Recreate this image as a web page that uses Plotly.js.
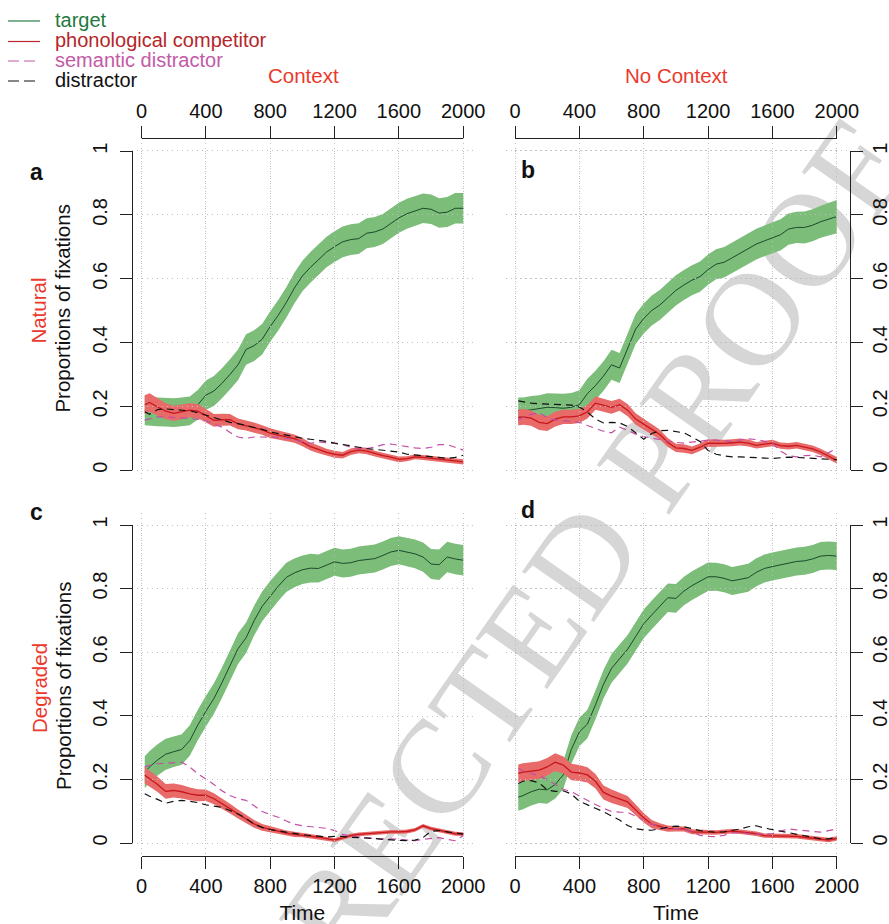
<!DOCTYPE html>
<html>
<head>
<meta charset="utf-8">
<script src="https://cdn.plot.ly/plotly-3.0.1.min.js"></script>
<style>
  html, body { margin:0; padding:0; background:#ffffff; }
  #wrap { position:relative; width:889px; height:924px; overflow:hidden; }
  #wm { position:absolute; left:460px; top:735px; transform:translate(-50%,-50%) rotate(-55deg);
        font-family:"Liberation Serif","DejaVu Serif",serif; font-size:134px; color:#d6d6d6;
        white-space:nowrap; z-index:0; line-height:1; }
  #plot { position:absolute; left:0; top:0; width:889px; height:924px; z-index:1; }
</style>
</head>
<body>
<div id="wrap">
  <div id="wm">UNCORRECTED PROOF</div>
  <div id="plot"></div>
</div>
<script>
// ---------------- DATA ----------------
const time = [20,50,100,150,200,250,300,350,400,450,500,550,600,650,700,750,800,850,900,950,1000,1050,1100,1150,1200,1250,1300,1350,1400,1450,1500,1550,1600,1650,1700,1750,1800,1850,1900,1950,2000];
const xTicks = [0,400,800,1200,1600,2000];
const yTicks = [0,0.2,0.4,0.6,0.8,1];
const yTickText = ['0','0.2','0.4','0.6','0.8','1'];
const seriesNames = ['target','phonological competitor','semantic distractor','distractor'];
const columnTitles = ['Context','No Context'];
const rowTitles = ['Natural','Degraded'];
const panelLetters = ['a','b','c','d'];

// Panel a: Natural, Context
const targetA = [0.188,0.185,0.183,0.182,0.180,0.183,0.186,0.205,0.235,0.248,
  0.272,0.300,0.330,0.378,0.390,0.410,0.450,0.485,0.525,0.570,
  0.608,0.635,0.660,0.683,0.700,0.715,0.722,0.725,0.742,0.746,
  0.755,0.772,0.790,0.803,0.811,0.820,0.817,0.805,0.808,0.820,0.820];
const targetSeA = [0.047,0.046,0.045,0.045,0.045,0.045,0.045,0.046,0.046,0.047,
  0.047,0.047,0.048,0.048,0.048,0.048,0.048,0.048,0.048,0.048,
  0.048,0.048,0.048,0.048,0.048,0.048,0.048,0.048,0.047,0.047,
  0.047,0.047,0.047,0.047,0.046,0.046,0.046,0.046,0.047,0.048,0.048];
const phonA = [0.205,0.212,0.198,0.185,0.178,0.182,0.188,0.185,0.170,0.156,
  0.158,0.158,0.145,0.140,0.133,0.126,0.116,0.110,0.104,0.099,
  0.088,0.074,0.065,0.056,0.050,0.047,0.058,0.063,0.060,0.052,
  0.046,0.041,0.034,0.036,0.042,0.040,0.037,0.034,0.031,0.028,0.026];
const phonSeA = [0.030,0.029,0.027,0.025,0.024,0.023,0.022,0.022,0.021,0.020,
  0.019,0.018,0.017,0.016,0.016,0.015,0.015,0.014,0.014,0.013,
  0.013,0.012,0.012,0.011,0.011,0.010,0.010,0.010,0.010,0.009,
  0.009,0.009,0.009,0.008,0.008,0.008,0.008,0.008,0.008,0.008,0.008];
const semA = [0.157,0.160,0.167,0.167,0.165,0.163,0.162,0.160,0.155,0.145,
  0.135,0.118,0.104,0.100,0.104,0.104,0.104,0.103,0.100,0.095,
  0.088,0.084,0.089,0.087,0.084,0.080,0.072,0.068,0.068,0.072,
  0.080,0.082,0.078,0.073,0.070,0.068,0.072,0.080,0.080,0.072,0.063];
const distA = [0.183,0.175,0.190,0.192,0.190,0.188,0.186,0.180,0.172,0.165,
  0.157,0.150,0.146,0.140,0.135,0.128,0.120,0.115,0.110,0.104,
  0.100,0.097,0.094,0.090,0.085,0.080,0.075,0.072,0.068,0.065,
  0.063,0.060,0.057,0.050,0.047,0.045,0.042,0.040,0.037,0.040,0.047];

// Panel b: Natural, No Context
const targetB = [0.186,0.186,0.189,0.192,0.197,0.196,0.194,0.197,0.205,0.240,
  0.265,0.295,0.330,0.320,0.380,0.442,0.475,0.500,0.517,0.540,
  0.563,0.580,0.595,0.606,0.628,0.645,0.651,0.665,0.679,0.693,
  0.708,0.718,0.728,0.737,0.755,0.760,0.760,0.767,0.778,0.786,0.794];
const targetSeB = [0.042,0.042,0.043,0.043,0.044,0.044,0.045,0.045,0.045,0.046,
  0.046,0.046,0.047,0.047,0.047,0.047,0.047,0.047,0.047,0.047,
  0.047,0.047,0.047,0.047,0.047,0.047,0.048,0.048,0.048,0.048,
  0.048,0.048,0.049,0.049,0.049,0.049,0.050,0.050,0.050,0.051,0.052];
const phonB = [0.165,0.167,0.163,0.150,0.146,0.160,0.167,0.167,0.170,0.183,
  0.210,0.203,0.197,0.205,0.188,0.160,0.145,0.128,0.112,0.087,
  0.070,0.068,0.062,0.072,0.085,0.084,0.084,0.086,0.088,0.085,
  0.078,0.082,0.085,0.077,0.075,0.078,0.072,0.067,0.057,0.045,0.031];
const phonSeB = [0.025,0.025,0.024,0.024,0.023,0.023,0.022,0.022,0.022,0.021,
  0.021,0.020,0.020,0.019,0.019,0.018,0.017,0.016,0.015,0.014,
  0.013,0.013,0.012,0.012,0.012,0.011,0.011,0.011,0.011,0.011,
  0.010,0.010,0.010,0.010,0.010,0.010,0.010,0.010,0.010,0.010,0.010];
const semB = [0.157,0.165,0.175,0.180,0.165,0.157,0.155,0.153,0.150,0.140,
  0.130,0.122,0.117,0.135,0.125,0.113,0.105,0.100,0.095,0.090,
  0.087,0.085,0.088,0.092,0.094,0.094,0.092,0.090,0.095,0.098,
  0.096,0.090,0.085,0.060,0.045,0.042,0.046,0.047,0.042,0.055,0.068];
const distB = [0.217,0.214,0.210,0.208,0.207,0.206,0.205,0.204,0.198,0.182,
  0.160,0.148,0.150,0.148,0.137,0.118,0.097,0.115,0.124,0.125,
  0.121,0.117,0.104,0.090,0.062,0.050,0.045,0.042,0.042,0.040,
  0.040,0.038,0.037,0.040,0.041,0.040,0.039,0.038,0.037,0.035,0.033];

// Panel c: Degraded, Context
const targetC = [0.224,0.240,0.262,0.280,0.288,0.295,0.323,0.372,0.415,0.455,
  0.505,0.560,0.612,0.646,0.700,0.745,0.778,0.808,0.836,0.850,
  0.860,0.865,0.864,0.875,0.885,0.880,0.882,0.889,0.892,0.895,
  0.905,0.916,0.921,0.915,0.910,0.900,0.878,0.876,0.900,0.894,0.890];
const targetSeC = [0.050,0.050,0.049,0.049,0.048,0.048,0.048,0.048,0.048,0.048,
  0.048,0.048,0.048,0.048,0.047,0.047,0.047,0.046,0.046,0.045,
  0.045,0.045,0.044,0.044,0.044,0.044,0.044,0.044,0.044,0.044,
  0.044,0.044,0.044,0.044,0.045,0.046,0.047,0.048,0.048,0.048,0.048];
const phonC = [0.214,0.203,0.185,0.163,0.166,0.162,0.155,0.151,0.151,0.140,
  0.125,0.109,0.092,0.076,0.061,0.050,0.044,0.037,0.032,0.028,
  0.026,0.022,0.019,0.014,0.010,0.017,0.024,0.028,0.030,0.033,
  0.035,0.036,0.036,0.037,0.042,0.055,0.046,0.040,0.036,0.030,0.029];
const phonSeC = [0.026,0.025,0.024,0.023,0.022,0.021,0.020,0.019,0.018,0.017,
  0.016,0.015,0.014,0.013,0.012,0.011,0.010,0.009,0.008,0.008,
  0.007,0.007,0.006,0.006,0.006,0.006,0.006,0.006,0.006,0.006,
  0.006,0.006,0.006,0.006,0.006,0.006,0.006,0.006,0.006,0.006,0.006];
const semC = [0.240,0.245,0.250,0.252,0.255,0.255,0.240,0.218,0.202,0.185,
  0.165,0.150,0.140,0.135,0.118,0.100,0.090,0.082,0.070,0.060,
  0.055,0.052,0.050,0.047,0.040,0.028,0.023,0.020,0.018,0.015,
  0.014,0.014,0.013,0.010,0.008,0.012,0.016,0.018,0.012,0.008,0.024];
const distC = [0.156,0.148,0.138,0.126,0.132,0.135,0.132,0.128,0.121,0.118,
  0.113,0.103,0.092,0.078,0.060,0.050,0.043,0.039,0.036,0.031,
  0.027,0.025,0.022,0.020,0.022,0.022,0.019,0.018,0.017,0.015,
  0.012,0.010,0.009,0.008,0.010,0.018,0.038,0.040,0.036,0.032,0.029];

// Panel d: Degraded, No Context
const targetD = [0.145,0.150,0.162,0.170,0.168,0.185,0.215,0.295,0.350,0.375,
  0.435,0.500,0.550,0.580,0.610,0.650,0.690,0.718,0.745,0.772,
  0.770,0.793,0.810,0.825,0.838,0.838,0.833,0.825,0.830,0.835,
  0.852,0.864,0.870,0.876,0.882,0.886,0.888,0.894,0.903,0.905,0.903];
const targetSeD = [0.043,0.043,0.043,0.043,0.044,0.044,0.044,0.045,0.045,0.045,
  0.045,0.045,0.045,0.045,0.045,0.045,0.045,0.045,0.045,0.045,
  0.045,0.045,0.045,0.045,0.045,0.044,0.044,0.044,0.044,0.044,
  0.044,0.044,0.044,0.044,0.044,0.044,0.044,0.044,0.044,0.044,0.044];
const phonD = [0.220,0.224,0.227,0.230,0.240,0.255,0.246,0.224,0.221,0.215,
  0.195,0.160,0.148,0.140,0.130,0.105,0.080,0.060,0.052,0.046,
  0.046,0.045,0.036,0.035,0.034,0.034,0.036,0.038,0.036,0.034,
  0.030,0.024,0.024,0.024,0.023,0.022,0.019,0.016,0.011,0.010,0.015];
const phonSeD = [0.028,0.028,0.028,0.028,0.028,0.028,0.027,0.026,0.025,0.024,
  0.023,0.022,0.021,0.020,0.019,0.017,0.015,0.013,0.011,0.010,
  0.009,0.008,0.008,0.008,0.007,0.007,0.007,0.007,0.007,0.007,
  0.007,0.007,0.007,0.007,0.007,0.007,0.007,0.007,0.007,0.007,0.007];
const semD = [0.235,0.228,0.220,0.212,0.200,0.185,0.170,0.162,0.148,0.135,
  0.122,0.110,0.100,0.098,0.097,0.085,0.073,0.060,0.052,0.046,
  0.046,0.045,0.035,0.025,0.022,0.021,0.025,0.033,0.034,0.030,
  0.029,0.029,0.030,0.038,0.045,0.042,0.040,0.036,0.035,0.040,0.045];
const distD = [0.188,0.195,0.197,0.190,0.168,0.163,0.165,0.155,0.132,0.120,
  0.110,0.099,0.086,0.073,0.056,0.046,0.042,0.041,0.046,0.051,
  0.054,0.052,0.046,0.040,0.037,0.035,0.036,0.040,0.045,0.052,
  0.055,0.048,0.043,0.038,0.035,0.030,0.025,0.018,0.014,0.014,0.019];

// ---------------- STYLE / GEOMETRY ----------------
const W = 889, H = 924;
const PX = x => x / W;          // pixel -> paper x
const PY = y => 1 - y / H;      // pixel -> paper y
const FONT = '"Liberation Sans", Arial, Helvetica, sans-serif';
const C = {
  greenFill: '#7bbd79', greenLine: '#1d4a2b',
  redFill: '#e86a69', redLine: '#c8171d',
  sem: '#c24fa5', dist: '#111111',
  title: '#ea3a2e'
};
const XRANGE = [-59.2, 2079.2];
const YRANGE = [-0.04, 1.04];
const colPx = [[132, 476], [505.5, 849.5]];      // plot region x (px)
const rowPx = [[138, 483], [512.5, 856]];         // plot region y (px)
const xTickSpan = [[141.5, 463.2], [515, 836.8]]; // 0..2000 (px)
const yTickSpan = [[151.1, 470.2], [525, 843]];   // 1..0 (px)

const panels = [
  {t: targetA, ts: targetSeA, p: phonA, ps: phonSeA, s: semA, d: distA, col:0, row:0},
  {t: targetB, ts: targetSeB, p: phonB, ps: phonSeB, s: semB, d: distB, col:1, row:0},
  {t: targetC, ts: targetSeC, p: phonC, ps: phonSeC, s: semC, d: distC, col:0, row:1},
  {t: targetD, ts: targetSeD, p: phonD, ps: phonSeD, s: semD, d: distD, col:1, row:1}
];

const traces = [];
const layout = {
  width: W, height: H,
  margin: {l:0, r:0, t:0, b:0},
  paper_bgcolor: 'rgba(0,0,0,0)', plot_bgcolor: 'rgba(0,0,0,0)',
  showlegend: false,
  font: {family: FONT, size: 20, color: '#111'},
  annotations: [], shapes: []
};

function band(xa, ya, mean, se, fill, lineColor, lineW) {
  const lo = mean.map((m, i) => m - se[i]);
  const hi = mean.map((m, i) => m + se[i]);
  traces.push({x: time, y: lo, xaxis: xa, yaxis: ya, mode: 'lines', line: {width: 0, color: fill}, hoverinfo: 'skip'});
  traces.push({x: time, y: hi, xaxis: xa, yaxis: ya, mode: 'lines', line: {width: 0, color: fill}, fill: 'tonexty', fillcolor: fill, hoverinfo: 'skip'});
  traces.push({x: time, y: mean, xaxis: xa, yaxis: ya, mode: 'lines', line: {width: lineW, color: lineColor}});
}

let extraAxis = 9;
panels.forEach((pn, k) => {
  const n = k + 1;
  const xa = 'x' + (n === 1 ? '' : n), ya = 'y' + (n === 1 ? '' : n);
  const xk = 'xaxis' + (n === 1 ? '' : n), yk = 'yaxis' + (n === 1 ? '' : n);
  const cp = colPx[pn.col], rp = rowPx[pn.row];
  const grid = {showgrid: true, gridcolor: '#c2c2c2', gridwidth: 1, griddash: '1px,4px',
                showticklabels: false, ticks: '', showline: false, zeroline: false, fixedrange: true};
  layout[xk] = Object.assign({}, grid, {domain: [PX(cp[0]), PX(cp[1])], range: XRANGE, anchor: ya,
                tickmode: 'array', tickvals: xTicks});
  layout[yk] = Object.assign({}, grid, {domain: [PY(rp[1]), PY(rp[0])], range: YRANGE, anchor: xa,
                tickmode: 'array', tickvals: yTicks});

  band(xa, ya, pn.t, pn.ts, C.greenFill, C.greenLine, 1);
  band(xa, ya, pn.p, pn.ps, C.redFill, C.redLine, 1.3);
  traces.push({x: time, y: pn.s, xaxis: xa, yaxis: ya, mode: 'lines', line: {width: 1.2, color: C.sem, dash: '7px,5px'}});
  traces.push({x: time, y: pn.d, xaxis: xa, yaxis: ya, mode: 'lines', line: {width: 1.2, color: C.dist, dash: '7px,5px'}});

  // decorative labelled axes (R style: line only spans the tick range)
  const dxn = n + 4, dyn = n + 4;
  const tickStyle = {showline: true, linecolor: '#222', linewidth: 1, ticks: 'outside', ticklen: 12,
                     tickwidth: 1, tickcolor: '#222', showgrid: false, zeroline: false, fixedrange: true,
                     tickfont: {family: FONT, size: 20, color: '#111'}};
  const xs = xTickSpan[pn.col], ys = yTickSpan[pn.row];
  layout['xaxis' + dxn] = Object.assign({}, tickStyle, {
    domain: [PX(xs[0]), PX(xs[1])], range: [0, 2000], anchor: 'free',
    side: pn.row === 0 ? 'top' : 'bottom',
    position: pn.row === 0 ? PY(rp[0]) : PY(rp[1]),
    tickmode: 'array', tickvals: xTicks, ticktext: xTicks.map(String),
    title: pn.row === 1 ? {text: 'Time', font: {family: FONT, size: 21, color: '#111'}, standoff: 11} : {text: ''}
  });
  const left = pn.col === 0;
  layout['yaxis' + dyn] = Object.assign({}, tickStyle, {
    domain: [PY(ys[1]), PY(ys[0])], range: [0, 1], anchor: 'free',
    side: left ? 'left' : 'right',
    position: left ? PX(cp[0]) : PX(cp[1]),
    tickmode: 'array', tickvals: yTicks, ticktext: yTickText, tickangle: -90,
    showticklabels: !left
  });
  traces.push({x: [null], y: [null], xaxis: 'x' + dxn, yaxis: ya, mode: 'lines', hoverinfo: 'skip'});
  traces.push({x: [null], y: [null], xaxis: xa, yaxis: 'y' + dyn, mode: 'lines', hoverinfo: 'skip'});
  if (left) {
    // separate label-only axis so the left labels sit a little further out (as in R)
    const ln = extraAxis++;
    layout['yaxis' + ln] = Object.assign({}, tickStyle, {
      domain: [PY(ys[1]), PY(ys[0])], range: [0, 1], anchor: 'free', side: 'left',
      position: PX(cp[0] - 5), showline: false, tickcolor: 'rgba(0,0,0,0)',
      tickmode: 'array', tickvals: yTicks, ticktext: yTickText, tickangle: -90
    });
    traces.push({x: [null], y: [null], xaxis: xa, yaxis: 'y' + ln, mode: 'lines', hoverinfo: 'skip'});
  }

  // panel letter
  const letterPos = [[36, 172], [528, 170], [36, 512], [528, 510]][k];
  layout.annotations.push({text: '<b>' + panelLetters[k] + '</b>', xref: 'paper', yref: 'paper',
    x: PX(letterPos[0]), y: PY(letterPos[1]), xanchor: 'center', yanchor: 'middle', showarrow: false,
    font: {family: FONT, size: 23, color: '#111'}});
});

// column titles
[[303, 76], [676, 76]].forEach((p, i) => layout.annotations.push({
  text: columnTitles[i], xref: 'paper', yref: 'paper', x: PX(p[0]), y: PY(p[1]),
  xanchor: 'center', yanchor: 'middle', showarrow: false, font: {family: FONT, size: 20.5, color: C.title}}));

// row titles + y axis titles
[310.6, 688].forEach((yc, i) => {
  layout.annotations.push({text: rowTitles[i], xref: 'paper', yref: 'paper', x: PX(39), y: PY(yc),
    xanchor: 'center', yanchor: 'middle', textangle: -90, showarrow: false,
    font: {family: FONT, size: 20.5, color: C.title}});
  layout.annotations.push({text: 'Proportions of fixations', xref: 'paper', yref: 'paper', x: PX(63), y: PY(yc - 2),
    xanchor: 'center', yanchor: 'middle', textangle: -90, showarrow: false,
    font: {family: FONT, size: 20.5, color: '#111'}});
});

// legend (top-left)
const legendColors = ['#2b7a49', '#b8262b', '#c45aa6', '#111111'];
const legendTextColors = ['#1f7a3d', '#b5262a', '#c45aa6', '#111111'];
const legendDash = ['solid', 'solid', '11px,5px', '11px,5px'];
[21, 41.5, 61, 81].forEach((yy, i) => {
  layout.shapes.push({type: 'line', xref: 'paper', yref: 'paper', x0: PX(8), x1: PX(40), y0: PY(yy), y1: PY(yy),
    line: {color: legendColors[i], width: 1.2, dash: legendDash[i]}});
  layout.annotations.push({text: seriesNames[i], xref: 'paper', yref: 'paper', x: PX(54), y: PY(yy - 1),
    xanchor: 'left', yanchor: 'middle', showarrow: false, borderpad: 0,
    font: {family: FONT, size: 20, color: legendTextColors[i]}});
});

traces.forEach(t => { t.showlegend = false; });
Plotly.newPlot('plot', traces, layout, {staticPlot: true, displayModeBar: false});
</script>
</body>
</html>
